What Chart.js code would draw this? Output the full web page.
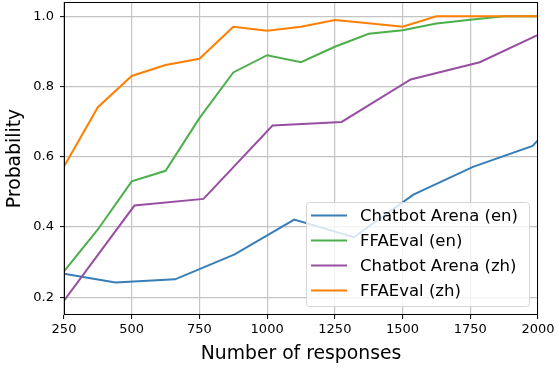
<!DOCTYPE html>
<html>
<head>
<meta charset="utf-8">
<script src="https://cdn.jsdelivr.net/npm/chart.js@4/dist/chart.umd.min.js"></script>
<style>
html,body{margin:0;padding:0;background:#fff;}
canvas{display:block;}
</style>
</head>
<body>
<canvas id="c" width="556" height="369"></canvas>
<script>
// ---- data ----
const xFFA = [250,375,500,625,750,875,1000,1125,1250,1375,1500,1625,1750,1875,2000];
const ffaEn = [0.274,0.393,0.53,0.56,0.71,0.84,0.889,0.869,0.913,0.95,0.96,0.979,0.99,1.0,1.0];
const ffaZh = [0.572,0.741,0.83,0.861,0.879,0.97,0.959,0.97,0.989,0.98,0.97,1.0,1.0,1.0,1.0];
const xArenaEn = [250,440,660,880,1100,1320,1540,1760,1980,2000];
const arenaEn = [0.267,0.242,0.251,0.322,0.421,0.371,0.492,0.571,0.631,0.647];
const xArenaZh = [250,510,765,1020,1275,1530,1785,2000];
const arenaZh = [0.19,0.461,0.48,0.689,0.699,0.82,0.869,0.947];
const seriesNames = ["Chatbot Arena (en)","FFAEval (en)","Chatbot Arena (zh)","FFAEval (zh)"];
const xTicks = [250,500,750,1000,1250,1500,1750,2000];
const yTicks = [0.2,0.4,0.6,0.8,1.0];

const colors = ["#377eb8","#4daf4a","#984ea3","#ff7f00"];
const pts = (xs, ys) => xs.map((x,i)=>({x:x,y:ys[i]}));
const FONT = "'DejaVu Sans', sans-serif";

const frameLegend = {
  id: 'frameLegend',
  afterDraw(chart){
    const ctx = chart.ctx, a = chart.chartArea;
    ctx.save();
    // frame
    ctx.strokeStyle = '#000';
    ctx.lineWidth = 1;
    ctx.strokeRect(Math.round(a.left)+0.5, Math.round(a.top)+0.5, Math.round(a.right-a.left)-1, Math.round(a.bottom-a.top)-1);
    // legend
    const w = 223, h = 104;
    const x0 = a.right - 9 - w, y0 = a.bottom - 9 - h;
    ctx.beginPath();
    if (ctx.roundRect) ctx.roundRect(x0+0.5, y0+0.5, w, h, 3); else ctx.rect(x0+0.5,y0+0.5,w,h);
    ctx.fillStyle = 'rgba(255,255,255,0.8)';
    ctx.fill();
    ctx.strokeStyle = '#d6d6d6';
    ctx.lineWidth = 1;
    ctx.stroke();
    ctx.font = "16.5px " + FONT;
    ctx.textBaseline = 'middle';
    ctx.textAlign = 'left';
    for (let i=0;i<seriesNames.length;i++){
      const cy = y0 + 13.5 + i*25;
      ctx.beginPath();
      ctx.strokeStyle = colors[i];
      ctx.lineWidth = 2;
      ctx.moveTo(x0+5, cy); ctx.lineTo(x0+41, cy);
      ctx.stroke();
      ctx.fillStyle = '#000';
      ctx.fillText(seriesNames[i], x0+54, cy+1);
    }
    ctx.restore();
  }
};

new Chart(document.getElementById('c'), {
  type: 'line',
  data: {
    datasets: [
      {label: seriesNames[0], data: pts(xArenaEn, arenaEn), borderColor: colors[0], order: 3},
      {label: seriesNames[1], data: pts(xFFA, ffaEn), borderColor: colors[1], order: 2},
      {label: seriesNames[2], data: pts(xArenaZh, arenaZh), borderColor: colors[2], order: 1},
      {label: seriesNames[3], data: pts(xFFA, ffaZh), borderColor: colors[3], order: 0}
    ].map(d => Object.assign(d, {borderWidth: 2, pointRadius: 0, tension: 0, fill: false}))
  },
  options: {
    responsive: false,
    animation: false,
    devicePixelRatio: 1,
    layout: {padding: {top: 2, right: 18, left: 0, bottom: 0}},
    plugins: {legend: {display: false}, tooltip: {enabled: false}},
    scales: {
      x: {
        type: 'linear', min: 250, max: 2000,
        afterBuildTicks: s => { s.ticks = xTicks.map(v => ({value: v})); },
        afterFit: s => { s.height = 54; s.paddingLeft = 0; s.paddingRight = 0; },
        ticks: {autoSkip: false, maxRotation: 0, color: '#000', padding: 3,
                font: {family: FONT, size: 13}, callback: v => String(v)},
        grid: {color: '#c4c4c4', lineWidth: 1.2, tickColor: '#000', tickLength: 4, tickWidth: 1},
        border: {display: false},
        title: {display: true, text: 'Number of responses', color: '#000',
                font: {family: FONT, size: 18.8}, padding: {top: 0, bottom: 4}}
      },
      y: {
        type: 'linear', min: 0.1495, max: 1.0405,
        afterBuildTicks: s => { s.ticks = yTicks.map(v => ({value: v})); },
        afterFit: s => { s.width = 64; s.paddingTop = 0; s.paddingBottom = 0; },
        ticks: {autoSkip: false, color: '#000', padding: 6,
                font: {family: FONT, size: 13}, callback: v => Number(v).toFixed(1)},
        grid: {color: '#c4c4c4', lineWidth: 1.2, tickColor: '#000', tickLength: 4, tickWidth: 1},
        border: {display: false},
        title: {display: true, text: 'Probability', color: '#000',
                font: {family: FONT, size: 18.8}, padding: {top: 4, bottom: 0}}
      }
    }
  },
  plugins: [frameLegend]
});
</script>
</body>
</html>
